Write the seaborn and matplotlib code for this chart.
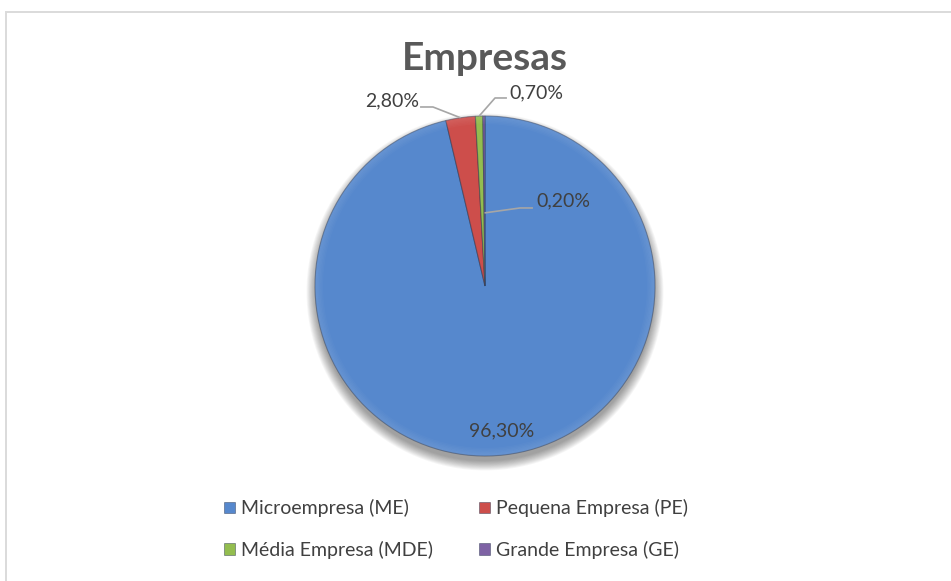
import matplotlib
matplotlib.use("Agg")
import matplotlib.pyplot as plt
from matplotlib.patches import Rectangle, Circle, Wedge
import numpy as np
import seaborn as sns

# Share of companies by size
categories = ["Microempresa (ME)", "Pequena Empresa (PE)",
              "Média Empresa (MDE)", "Grande Empresa (GE)"]
shares = [96.3, 2.8, 0.7, 0.2]
share_labels = ["96,30%", "2,80%", "0,70%", "0,20%"]
title = "Empresas"

sns.set_theme(style="white")
plt.rcParams["font.family"] = ["Lato", "DejaVu Sans"]

colors = sns.color_palette(["#5688CD", "#CD4E4B", "#93BD4F", "#7E62A4"])
text_color = "#404040"

W, H = 951, 581
fig = plt.figure(figsize=(W / 100, H / 100), dpi=100)
fig.patch.set_facecolor("white")

# chart frame (runs off the right and bottom edges)
fig.add_artist(Rectangle((5.5 / W, -0.05), 1.2, 1 - 11.5 / H + 0.05,
                         transform=fig.transFigure, fill=False,
                         edgecolor="#DADADA", linewidth=1.4))

# pie axes: center (485, 286) px, radius 170 px
cx, cy, r = 485, 286, 170
ax = fig.add_axes([(cx - r) / W, (H - cy - r) / H, 2 * r / W, 2 * r / H])
ax.set_xlim(-1, 1)
ax.set_ylim(-1, 1)
ax.set_autoscale_on(False)
ax.axis("off")

# soft drop shadow under the pie
for i in range(12):
    ax.add_patch(Circle((0.0, -0.035), 0.995 + 0.005 * i, facecolor="#000000",
                        alpha=0.035, edgecolor="none", zorder=0,
                        clip_on=False))

wedges, _ = ax.pie(shares, colors=colors, startangle=90, counterclock=False,
                   radius=1.0, center=(0, 0), frame=False,
                   wedgeprops=dict(edgecolor=(0.15, 0.2, 0.3, 0.45),
                                   linewidth=0.8, zorder=2, clip_on=False))
ax.set_xlim(-1, 1)
ax.set_ylim(-1, 1)

# bevel highlight along the rim
for k in range(6):
    ax.add_patch(Wedge((0, 0), 1.0 - 0.008 * k, 0, 360, width=0.008,
                       facecolor="white", alpha=0.10 - 0.015 * k,
                       edgecolor="none", zorder=3, clip_on=False))

def mid_angle(w):
    return np.deg2rad((w.theta1 + w.theta2) / 2.0)

# value labels
fs = 14
a0 = mid_angle(wedges[0])
ax.text(0.86 * np.cos(a0), 0.86 * np.sin(a0), share_labels[0], ha="center",
        va="center", fontsize=fs, color=text_color, zorder=5)

leader = "#A6A6A6"
# (wedge index, anchor radius, elbow, line end, text pos, alignment)
specs = [
    (1, 1.0, (-0.306, 1.053), (-0.382, 1.053), (-0.39, 1.088), "right"),
    (2, 1.0, (0.059, 1.106), (0.129, 1.106), (0.145, 1.135), "left"),
    (3, 0.43, (0.206, 0.459), (0.282, 0.459), (0.305, 0.50), "left"),
]
for idx, rad, elbow, end, tpos, ha in specs:
    a = mid_angle(wedges[idx])
    p = (rad * np.cos(a), rad * np.sin(a))
    ax.plot([p[0], elbow[0], end[0]], [p[1], elbow[1], end[1]],
            color=leader, lw=1.2, zorder=4, clip_on=False,
            solid_capstyle="butt")
    ax.text(tpos[0], tpos[1], share_labels[idx], ha=ha, va="center",
            fontsize=fs, color=text_color, zorder=5, clip_on=False)

fig.text(485 / W, 1 - 58 / H, title, ha="center", va="center",
         fontsize=28, fontweight="bold", color="#595959")

# legend filled row by row
order = [0, 2, 1, 3]
leg = fig.legend([wedges[i] for i in order], [categories[i] for i in order],
                 ncol=2, loc="center",
                 bbox_to_anchor=(456 / W, 1 - 529 / H), frameon=False,
                 fontsize=fs, labelcolor=text_color, handlelength=0.55,
                 handleheight=0.55, handletextpad=0.3, columnspacing=2.4,
                 labelspacing=1.2)
for h in leg.legend_handles:
    h.set_edgecolor((0.15, 0.2, 0.3, 0.5))
    h.set_linewidth(0.6)

fig.savefig("out.png", dpi=100, facecolor="white")
